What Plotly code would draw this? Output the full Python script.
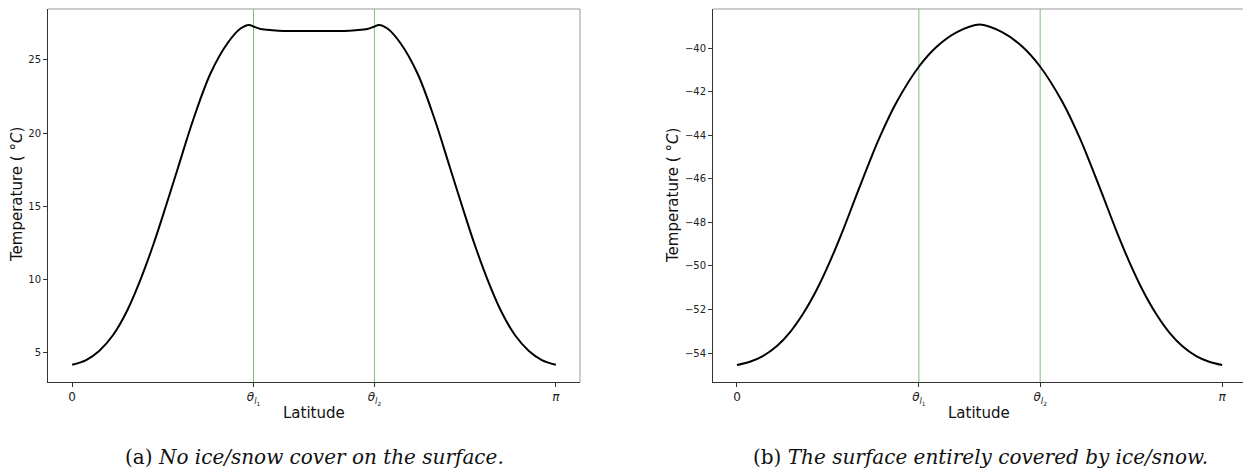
import numpy as np
import plotly.graph_objects as go

PI = np.pi
theta_l1 = 3 * PI / 8
theta_l2 = 5 * PI / 8

# (a) no ice/snow cover
lat_a = [0.000, 0.091, 0.175, 0.266, 0.356, 0.440, 0.524, 0.609, 0.687, 0.790,
         0.900, 1.010, 1.094, 1.148, 1.181, 1.224, 1.300, 1.375, 1.571,
         1.767, 1.842, 1.918, 1.961, 1.994, 2.048, 2.132, 2.242, 2.352,
         2.455, 2.533, 2.618, 2.702, 2.786, 2.876, 2.967, 3.051, 3.142]
temp_a = [4.20, 4.52, 5.14, 6.23, 7.87, 9.91, 12.30, 15.03, 17.63, 21.04,
          24.11, 26.16, 27.15, 27.39, 27.27, 27.12, 27.03, 26.98, 26.98,
          26.98, 27.03, 27.12, 27.27, 27.39, 27.15, 26.16, 24.11, 21.04,
          17.63, 15.03, 12.30, 9.91, 7.87, 6.23, 5.14, 4.52, 4.20]

# (b) surface entirely covered by ice/snow
lat_b = [0.000, 0.084, 0.168, 0.259, 0.343, 0.427, 0.518, 0.602, 0.687, 0.777,
         0.861, 0.926, 1.036, 1.179, 1.295, 1.425, 1.571,
         1.717, 1.847, 1.963, 2.106, 2.216, 2.281, 2.365, 2.455, 2.540,
         2.624, 2.715, 2.799, 2.883, 2.974, 3.058, 3.142]
temp_b = [-54.55, -54.40, -54.14, -53.68, -53.05, -52.21, -51.07, -49.80, -48.35, -46.69,
          -45.17, -44.06, -42.45, -40.84, -39.92, -39.26, -38.91,
          -39.26, -39.92, -40.84, -42.45, -44.06, -45.17, -46.69, -48.35, -49.80,
          -51.07, -52.21, -53.05, -53.68, -54.14, -54.40, -54.55]

x_tickvals = [0, theta_l1, theta_l2, PI]
x_ticktext = ["0", "<i>θ</i><sub><i>l</i><sub>1</sub></sub>",
              "<i>θ</i><sub><i>l</i><sub>2</sub></sub>", "<i>π</i>"]
yticks_a = [5, 10, 15, 20, 25]
yticks_b = [-54, -52, -50, -48, -46, -44, -42, -40]

caption_a = "(a) <i>No ice/snow cover on the surface.</i>"
caption_b = "(b) <i>The surface entirely covered by ice/snow.</i>"
ylabel = "Temperature ( °<i>C</i>)"
xlabel = "Latitude"

W, H = 1243, 472
def px(v):
    return v / W
def py(v):
    return 1 - v / H

fig = go.Figure()
fig.add_trace(go.Scatter(x=lat_a, y=temp_a, mode="lines", line=dict(color="black", width=2, shape="spline", smoothing=1.0),
                         xaxis="x", yaxis="y", showlegend=False))
fig.add_trace(go.Scatter(x=lat_b, y=temp_b, mode="lines", line=dict(color="black", width=2, shape="spline", smoothing=1.0),
                         xaxis="x2", yaxis="y2", showlegend=False))

green = "rgba(40,150,40,0.6)"
for xr, yr in (("x", "y"), ("x2", "y2")):
    for t in (theta_l1, theta_l2):
        fig.add_shape(type="line", xref=xr, yref=yr + " domain", x0=t, x1=t, y0=0, y1=1,
                      line=dict(color=green, width=1), layer="below")

dom_y = [py(382), py(9)]
tickfont = dict(family="DejaVu Sans", size=10, color="#222")
common_x = dict(tickvals=x_tickvals, ticktext=x_ticktext, ticks="outside", ticklen=4, tickcolor="#333",
                showgrid=False, zeroline=False, showline=True, linecolor="#333", linewidth=1,
                tickfont=dict(family="DejaVu Sans", size=12, color="#222"))
common_y = dict(ticks="outside", ticklen=4, tickcolor="#333", showgrid=False, zeroline=False,
                showline=True, linecolor="#333", linewidth=1, tickfont=tickfont)

fig.update_layout(
    width=W, height=H, margin=dict(l=0, r=0, t=0, b=0),
    paper_bgcolor="white", plot_bgcolor="white",
    xaxis=dict(domain=[px(48), px(580)], range=[-0.157, 3.299], anchor="y", **common_x),
    yaxis=dict(domain=dom_y, range=[3.02, 28.48], tickvals=yticks_a, anchor="x", **common_y),
    xaxis2=dict(domain=[px(713), 1.0], range=[-0.155, 3.277], anchor="y2", **common_x),
    yaxis2=dict(domain=dom_y, range=[-55.33, -38.2], tickvals=yticks_b, anchor="x2", **common_y),
)

# top / right frame lines
frame = "#999"
fig.add_shape(type="line", xref="paper", yref="paper", x0=px(48), x1=px(580), y0=py(9), y1=py(9), line=dict(color=frame, width=1))
fig.add_shape(type="line", xref="paper", yref="paper", x0=px(580), x1=px(580), y0=py(9), y1=py(382), line=dict(color=frame, width=1))
fig.add_shape(type="line", xref="paper", yref="paper", x0=px(713), x1=1.0, y0=py(9), y1=py(9), line=dict(color=frame, width=1))

labfont = dict(family="DejaVu Sans", size=15, color="#111")
capfont = dict(family="DejaVu Serif", size=20, color="#111")
annos = [
    dict(text=ylabel, x=px(17), y=py(195), textangle=-90, font=labfont),
    dict(text=ylabel, x=px(673), y=py(195), textangle=-90, font=labfont),
    dict(text=xlabel, x=px(314), y=py(413), font=labfont),
    dict(text=xlabel, x=px(979), y=py(413), font=labfont),
    dict(text=caption_a, x=px(314), y=py(457), font=capfont),
    dict(text=caption_b, x=px(980), y=py(457), font=capfont),
]
for a in annos:
    fig.add_annotation(xref="paper", yref="paper", showarrow=False, xanchor="center", yanchor="middle", **a)

fig.write_html("out.html")
